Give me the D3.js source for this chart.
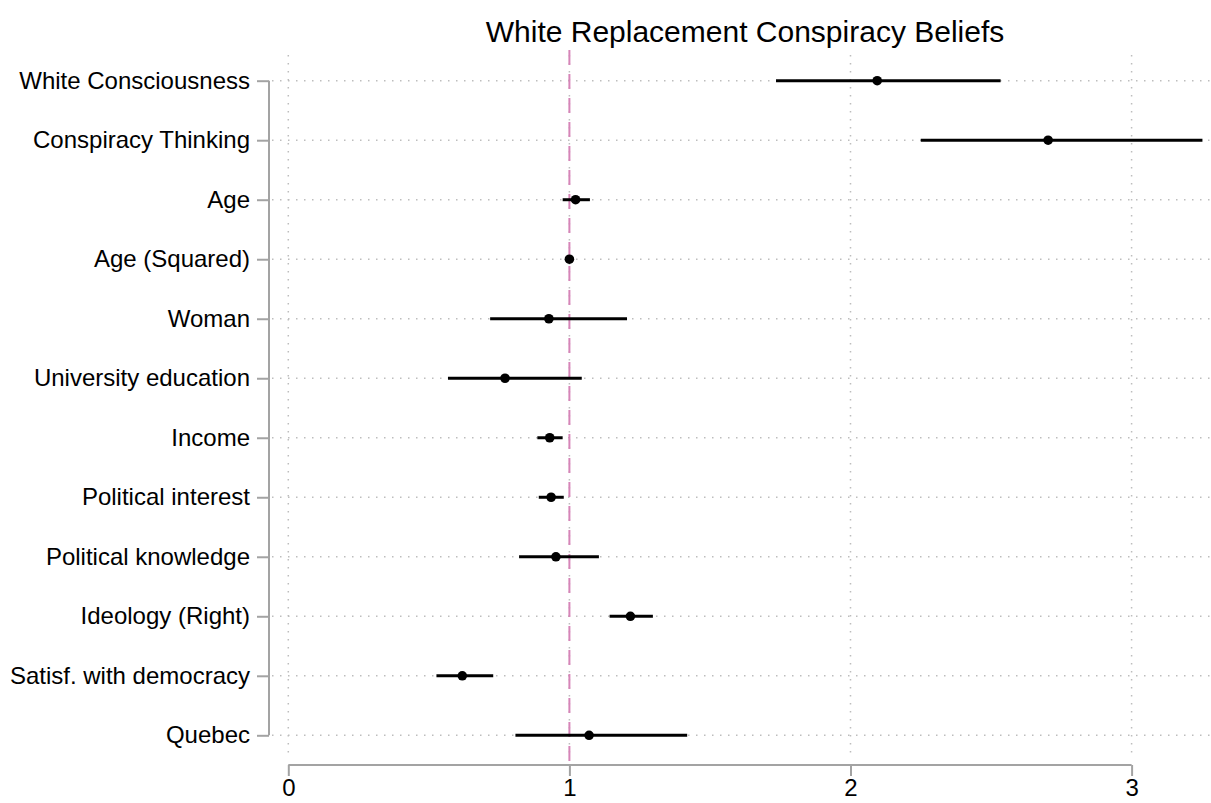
<!DOCTYPE html>
<html><head><meta charset="utf-8">
<script src="https://cdn.jsdelivr.net/npm/d3@7"></script>
<style>body{margin:0;background:#fff}svg{display:block}text{font-family:"Liberation Sans",Arial,Helvetica,sans-serif}</style>
</head><body>
<svg id="c" width="1211" height="803"></svg>
<script>
const categories = ["White Consciousness","Conspiracy Thinking","Age","Age (Squared)","Woman","University education","Income","Political interest","Political knowledge","Ideology (Right)","Satisf. with democracy","Quebec"];
const estimates = [2.095, 2.703, 1.022, 1.000, 0.927, 0.771, 0.930, 0.935, 0.952, 1.217, 0.619, 1.070];
const lower =     [1.735, 2.250, 0.976, 0.995, 0.718, 0.568, 0.886, 0.891, 0.821, 1.143, 0.527, 0.808];
const upper =     [2.534, 3.252, 1.073, 1.005, 1.205, 1.044, 0.976, 0.980, 1.105, 1.297, 0.729, 1.419];
const xTicks = [0, 1, 2, 3];
const refValue = 1;
const title = "White Replacement Conspiracy Beliefs";

const svg = d3.select("#c");
const x = d3.scaleLinear().domain([0, 3]).range([288.3, 1131.6]);
const y = d3.scalePoint().domain(categories).range([80.7, 735.3]);
const grey = "#a3a3a3";

// vertical dotted gridlines
svg.append("g").selectAll("line").data(xTicks).join("line")
  .attr("x1", d => x(d)).attr("x2", d => x(d)).attr("y1", 55).attr("y2", 757)
  .attr("stroke", "#bdbdbd").attr("stroke-width", 1.5).attr("stroke-dasharray", "1.5,6.5");
// horizontal dotted gridlines
svg.append("g").selectAll("line").data(categories).join("line")
  .attr("x1", 272).attr("x2", 1211).attr("y1", d => y(d)).attr("y2", d => y(d))
  .attr("stroke", "#bdbdbd").attr("stroke-width", 1.5).attr("stroke-dasharray", "1.5,6.5");

// reference line
svg.append("line").attr("x1", x(refValue)).attr("x2", x(refValue)).attr("y1", 50).attr("y2", 762)
  .attr("stroke", "#d685b8").attr("stroke-width", 2).attr("stroke-dasharray", "15,9");

// y axis
const ya = svg.append("g").attr("transform", "translate(269,0)")
  .call(d3.axisLeft(y).tickSize(12).tickPadding(7));
ya.select(".domain").attr("stroke", grey).attr("stroke-width", 2).attr("d", `M0,${y.range()[0]}V${y.range()[1]}`);
ya.selectAll(".tick line").attr("stroke", grey).attr("stroke-width", 2);
ya.selectAll(".tick text").attr("font-size", 24).attr("fill", "#000")
  .attr("font-family", "'Liberation Sans',Arial,sans-serif");

// x axis
const xa = svg.append("g").attr("transform", "translate(0,765)")
  .call(d3.axisBottom(x).tickValues(xTicks).tickFormat(d3.format("d")).tickSize(11).tickPadding(3));
xa.select(".domain").attr("stroke", grey).attr("stroke-width", 2).attr("d", `M${x(0)},0H${x(3)}`);
xa.selectAll(".tick line").attr("stroke", grey).attr("stroke-width", 2);
xa.selectAll(".tick text").attr("font-size", 24).attr("fill", "#000")
  .attr("font-family", "'Liberation Sans',Arial,sans-serif");

// CIs
const rows = categories.map((c, i) => ({c, est: estimates[i], lo: lower[i], hi: upper[i]}));
svg.append("g").selectAll("line").data(rows).join("line")
  .attr("x1", d => x(d.lo)).attr("x2", d => Math.min(x(d.hi), 1211)).attr("y1", d => y(d.c)).attr("y2", d => y(d.c))
  .attr("stroke", "#000").attr("stroke-width", 3);
svg.append("g").selectAll("circle").data(rows).join("circle")
  .attr("cx", d => x(d.est)).attr("cy", d => y(d.c)).attr("r", 4.8).attr("fill", "#000");

// title
svg.append("text").attr("x", 745).attr("y", 42).attr("text-anchor", "middle")
  .attr("font-size", 30).attr("fill", "#000").text(title);
</script>
</body></html>
